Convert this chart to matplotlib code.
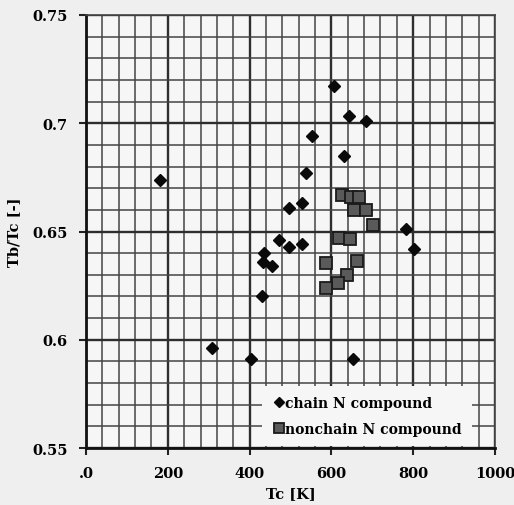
import matplotlib
matplotlib.use("Agg")
import matplotlib.pyplot as plt
import numpy as np

chain_tc = [181, 307, 403, 607, 644, 684, 553, 632, 538, 497, 528, 472, 497, 529,
            436, 434, 456, 430, 652, 782, 803]
chain_r = [0.674, 0.596, 0.591, 0.717, 0.7035, 0.701, 0.694, 0.685, 0.677, 0.661,
           0.663, 0.646, 0.643, 0.644, 0.640, 0.636, 0.634, 0.620, 0.591, 0.651, 0.642]

nonchain_tc = [627, 648, 668, 655, 685, 701, 619, 645, 588, 662, 639, 617, 587]
nonchain_r = [0.667, 0.666, 0.666, 0.660, 0.660, 0.653, 0.647, 0.6465, 0.6355,
              0.6365, 0.630, 0.626, 0.624]

xticks = [0, 200, 400, 600, 800, 1000]
xticklabels = [".0", "200", "400", "600", "800", "1000"]
yticks = [0.55, 0.6, 0.65, 0.7, 0.75]
yticklabels = ["0.55", "0.6", "0.65", "0.7", "0.75"]

font = {"family": "DejaVu Serif", "weight": "bold"}

fig = plt.figure(figsize=(5.14, 5.06), dpi=100, facecolor="#efefef")
ax = fig.add_axes([0.1673, 0.1126, 0.7957, 0.8558])
ax.set_facecolor("#f6f6f6")
ax.set_xlim(0, 1000)
ax.set_ylim(0.55, 0.75)

ax.set_xticks(xticks)
ax.set_xticklabels(xticklabels, fontdict=dict(font, size=10.5))
ax.set_xticks(np.arange(0, 1001, 40), minor=True)
ax.set_yticks(yticks)
ax.set_yticklabels(yticklabels, fontdict=dict(font, size=10.5))
ax.set_yticks(np.arange(0.55, 0.7501, 0.01), minor=True)

ax.grid(which="minor", color="#444444", linewidth=1.1)
ax.grid(which="major", color="#2e2e2e", linewidth=1.7)
ax.set_axisbelow(True)
ax.tick_params(which="major", direction="out", length=5, width=1.5, color="#222222", pad=8)
ax.tick_params(which="minor", length=0)

for side in ["left", "bottom"]:
    ax.spines[side].set_linewidth(2.0)
    ax.spines[side].set_color("#111111")
for side in ["top", "right"]:
    ax.spines[side].set_linewidth(1.2)
    ax.spines[side].set_color("#444444")

ax.plot(chain_tc, chain_r, linestyle="none", marker="D", markersize=6.5,
        color="#0a0a0a", markeredgecolor="#0a0a0a", label="chain N compound", zorder=3)
ax.plot(nonchain_tc, nonchain_r, linestyle="none", marker="s", markersize=8.5,
        color="#5a5a5a", markeredgecolor="#1a1a1a", markeredgewidth=1.3,
        label="nonchain N compound", zorder=3)

leg = ax.legend(loc="lower left", bbox_to_anchor=(0.43, 0.005), frameon=True,
                facecolor="#f6f6f6", edgecolor="none", framealpha=1.0,
                prop=dict(family="DejaVu Serif", weight="bold", size=10),
                handletextpad=0.0, handlelength=1.0, borderpad=0.7,
                labelspacing=0.9, borderaxespad=0.0, fancybox=False,
                markerscale=0.8)
leg.get_frame().set_linewidth(0)

ax.set_xlabel("Tc [K]", fontdict=dict(font, size=10.5), labelpad=4)
ax.set_ylabel("Tb/Tc [-]", fontdict=dict(font, size=10.5), labelpad=8)

fig.savefig("out.png", dpi=100, facecolor=fig.get_facecolor())
